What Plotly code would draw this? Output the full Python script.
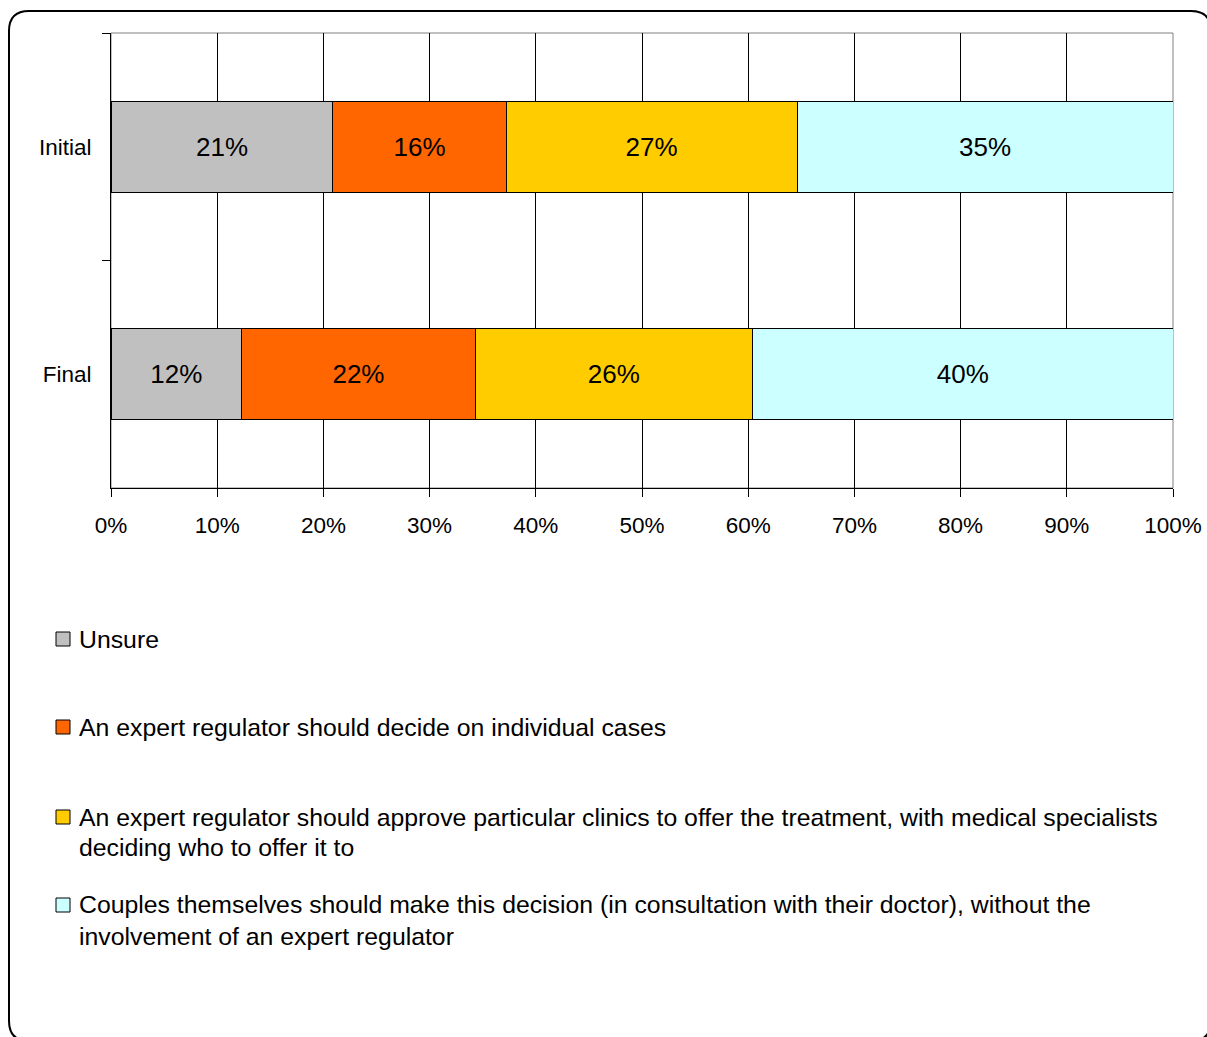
import plotly.graph_objects as go

# Survey responses (percent of respondents), stacked to 100%
rounds = ["Initial", "Final"]
series_names = [
    "Unsure",
    "An expert regulator should decide on individual cases",
    "An expert regulator should approve particular clinics to offer the treatment, with medical specialists<br>deciding who to offer it to",
    "Couples themselves should make this decision (in consultation with their doctor), without the<br>involvement of an expert regulator",
]
unsure = [20.9, 12.3]
regulator_cases = [16.3, 22.0]
regulator_clinics = [27.4, 26.1]
couples = [35.4, 39.6]
x_ticks = [0, 10, 20, 30, 40, 50, 60, 70, 80, 90, 100]
x_tick_text = [f"{v}%" for v in x_ticks]

colors = ["#C0C0C0", "#FF6600", "#FFCC00", "#CCFFFF"]
series_values = [unsure, regulator_cases, regulator_clinics, couples]

W, H = 1207, 1037
L, R, T, B = 111, 34, 33, 549
FONT = "Liberation Sans, Arial, sans-serif"


def px_x(px):
    return (px - L) / (W - L - R)


def px_y(py):
    return (H - B - py) / (H - T - B)


fig = go.Figure()
for name, vals, col in zip(series_names, series_values, colors):
    fig.add_trace(go.Bar(
        y=rounds, x=vals, name=name, orientation="h",
        marker=dict(color=col, line=dict(color="black", width=1)),
        texttemplate="%{x:.0f}%", textposition="inside",
        insidetextanchor="middle", textangle=0, constraintext="none",
        textfont=dict(family=FONT, size=26, color="black"),
        showlegend=False, hoverinfo="skip",
    ))

shapes = []
# plot-area frame (grey top/right edges)
shapes.append(dict(type="rect", xref="paper", yref="paper", x0=0, x1=1, y0=0, y1=1,
                   line=dict(color="#808080", width=1), layer="between"))

# rounded outer border
x0, x1, y0, y1, r = 9, 1211, 11, 1041, 20
path = (f"M {px_x(x0 + r)},{px_y(y0)} L {px_x(x1 - r)},{px_y(y0)} "
        f"Q {px_x(x1)},{px_y(y0)} {px_x(x1)},{px_y(y0 + r)} "
        f"L {px_x(x1)},{px_y(y1 - r)} Q {px_x(x1)},{px_y(y1)} {px_x(x1 - r)},{px_y(y1)} "
        f"L {px_x(x0 + r)},{px_y(y1)} Q {px_x(x0)},{px_y(y1)} {px_x(x0)},{px_y(y1 - r)} "
        f"L {px_x(x0)},{px_y(y0 + r)} Q {px_x(x0)},{px_y(y0)} {px_x(x0 + r)},{px_y(y0)} Z")
shapes.append(dict(type="path", xref="paper", yref="paper", path=path,
                   line=dict(color="black", width=2), layer="above"))

# legend entries: swatch + one annotation per text line
annotations = []
first_line_y = [639, 727, 817, 905]
line_step = 31
for name, col, ly in zip(series_names, colors, first_line_y):
    shapes.append(dict(type="rect", xref="paper", yref="paper",
                       x0=px_x(56), x1=px_x(70), y0=px_y(ly - 7), y1=px_y(ly + 7),
                       fillcolor=col, line=dict(color="black", width=1)))
    for i, line in enumerate(name.split("<br>")):
        annotations.append(dict(xref="paper", yref="paper", x=px_x(77),
                                y=px_y(ly + i * line_step),
                                xanchor="left", yanchor="middle", align="left",
                                text=line, showarrow=False,
                                font=dict(family=FONT, size=24.8, color="black")))

fig.update_layout(
    width=W, height=H,
    margin=dict(l=L, r=R, t=T, b=B, autoexpand=False),
    paper_bgcolor="white", plot_bgcolor="white",
    barmode="stack", bargap=0.6,
    font=dict(family=FONT, size=22.5, color="black"),
    shapes=shapes, annotations=annotations,
    xaxis=dict(range=[0, 100], tickvals=x_ticks, ticktext=x_tick_text,
               showgrid=True, gridcolor="black", gridwidth=1,
               showline=True, linecolor="black", linewidth=1,
               ticks="outside", ticklen=8, tickcolor="black",
               ticklabelstandoff=9, zeroline=False, automargin=False,
               tickfont=dict(family=FONT, size=22.5, color="black")),
    yaxis=dict(type="category", categoryarray=rounds, range=[1.5, -0.5],
               tickson="boundaries", ticks="outside", ticklen=8, tickcolor="black",
               showline=True, linecolor="black", linewidth=1, showgrid=False,
               ticklabelstandoff=14, automargin=False,
               tickfont=dict(family=FONT, size=22.5, color="black")),
)

fig.write_html("out.html")
